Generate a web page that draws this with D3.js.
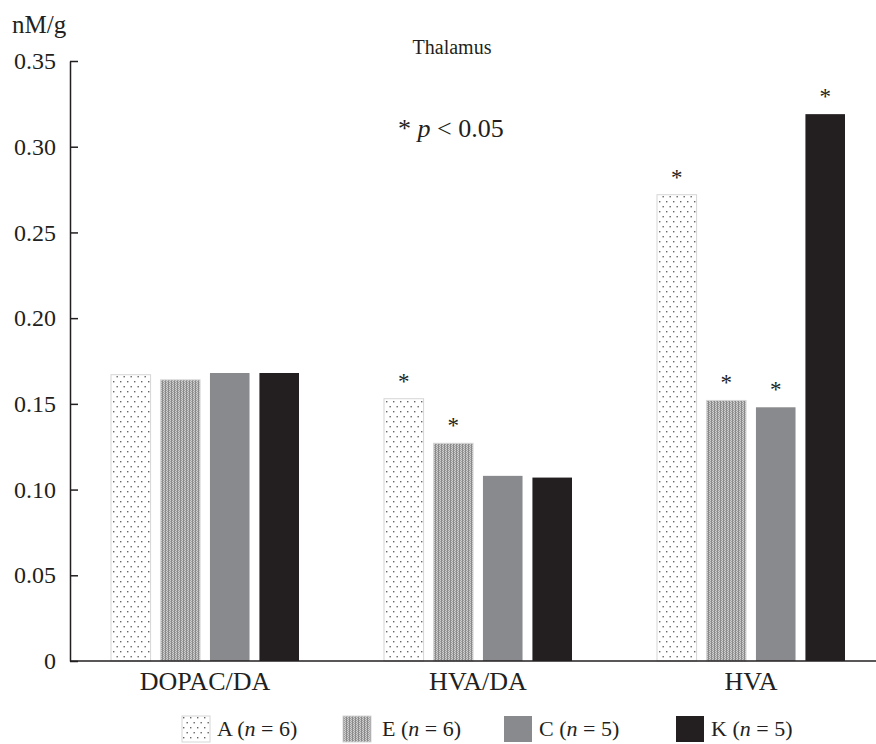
<!DOCTYPE html>
<html>
<head>
<meta charset="utf-8">
<script src="https://cdn.jsdelivr.net/npm/d3@7"></script>
<style>
  body { margin: 0; background: #fff; }
  text { font-family: "Liberation Serif", "Times New Roman", serif; fill: #231f20; }
</style>
</head>
<body>
<div id="chart"></div>
<script>
const width = 876;
const height = 744;

// data
const categories = ["DOPAC/DA", "HVA/DA", "HVA"];
const groups = ["A", "E", "C", "K"];
const groupN = [6, 6, 5, 5];
const valuesA = [0.167, 0.153, 0.272];
const valuesE = [0.164, 0.127, 0.152];
const valuesC = [0.168, 0.108, 0.148];
const valuesK = [0.168, 0.107, 0.319];
// significance marks (1 = *)
const sigA = [0, 1, 1];
const sigE = [0, 1, 1];
const sigC = [0, 0, 1];
const sigK = [0, 0, 1];
const yTicks = [0, 0.05, 0.10, 0.15, 0.20, 0.25, 0.30, 0.35];

const series = [valuesA, valuesE, valuesC, valuesK];
const sigs = [sigA, sigE, sigC, sigK];

const svg = d3.select("#chart")
  .append("svg")
  .attr("width", width)
  .attr("height", height);

const defs = svg.append("defs");

// dotted pattern for A
const pA = defs.append("pattern")
  .attr("id", "patA")
  .attr("patternUnits", "userSpaceOnUse")
  .attr("width", 7)
  .attr("height", 10);
pA.append("rect").attr("width", 7).attr("height", 10).attr("fill", "#fff");
pA.append("rect").attr("x", 1).attr("y", 1).attr("width", 1.4).attr("height", 1.4).attr("fill", "#666");
pA.append("rect").attr("x", 4.5).attr("y", 6).attr("width", 1.4).attr("height", 1.4).attr("fill", "#666");

// fine checker pattern for E
const pE = defs.append("pattern")
  .attr("id", "patE")
  .attr("patternUnits", "userSpaceOnUse")
  .attr("width", 3)
  .attr("height", 2);
pE.append("rect").attr("width", 3).attr("height", 2).attr("fill", "#cfcfcf");
pE.append("rect").attr("x", 0).attr("width", 1).attr("height", 2).attr("fill", "#8a8a8a");
pE.append("rect").attr("x", 1).attr("width", 1).attr("height", 1).attr("fill", "#9c9c9c");
pE.append("rect").attr("x", 2).attr("y", 1).attr("width", 1).attr("height", 1).attr("fill", "#a4a4a4");

const fills = ["url(#patA)", "url(#patE)", "#898a8d", "#231f20"];
const strokes = ["#d6d6d6", "#d6d6d6", "none", "none"];

const y = d3.scaleLinear().domain([0, 0.35]).range([661, 61]);

const x = d3.scaleBand()
  .domain(categories)
  .range([68.5, 887.5]);

const xs = d3.scaleBand()
  .domain(groups)
  .range([-94, 94])
  .paddingInner(0.2);

// bars
groups.forEach((g, gi) => {
  const vals = series[gi];
  svg.append("g")
    .selectAll("rect")
    .data(categories)
    .join("rect")
    .attr("x", c => x(c) + x.bandwidth() / 2 + xs(g))
    .attr("y", (c, i) => y(vals[i]))
    .attr("width", xs.bandwidth())
    .attr("height", (c, i) => y(0) - y(vals[i]))
    .attr("fill", fills[gi])
    .attr("stroke", strokes[gi])
    .attr("stroke-width", 1);

  svg.append("g")
    .selectAll("text")
    .data(categories.filter((c, i) => sigs[gi][i]))
    .join("text")
    .attr("x", c => x(c) + x.bandwidth() / 2 + xs(g) + xs.bandwidth() / 2)
    .attr("y", c => y(vals[categories.indexOf(c)]) - 10)
    .attr("text-anchor", "middle")
    .attr("font-size", 23)
    .text("*");
});

// y axis
const yAxis = svg.append("g").attr("transform", "translate(70,0)")
  .call(d3.axisLeft(y).tickValues(yTicks).tickSizeInner(-8).tickSizeOuter(0).tickPadding(14)
    .tickFormat(d => d === 0 ? "0" : d3.format(".2f")(d)));
yAxis.select(".domain").attr("stroke", "#231f20").attr("stroke-width", 1.5);
yAxis.selectAll(".tick line").attr("stroke", "#231f20").attr("stroke-width", 1.5);
yAxis.selectAll(".tick text").style("font-size", "24px").attr("fill", "#231f20");

// x axis line
svg.append("line")
  .attr("x1", 70).attr("x2", 876)
  .attr("y1", y(0)).attr("y2", y(0))
  .attr("stroke", "#231f20").attr("stroke-width", 1.5);

svg.append("g")
  .selectAll("text")
  .data(categories)
  .join("text")
  .attr("x", c => x(c) + x.bandwidth() / 2)
  .attr("y", 690)
  .attr("text-anchor", "middle")
  .attr("font-size", 26)
  .text(d => d);

// labels
svg.append("text").attr("x", 12).attr("y", 33).attr("font-size", 25).text("nM/g");
svg.append("text").attr("x", 452).attr("y", 54).attr("text-anchor", "middle")
  .attr("font-size", 20).text("Thalamus");

const pt = svg.append("text").attr("x", 398).attr("y", 137).attr("font-size", 26);
pt.append("tspan").text("* ");
pt.append("tspan").attr("font-style", "italic").text("p");
pt.append("tspan").text(" < 0.05");

// legend
const legendX = [182, 343, 504, 676];
const lg = svg.append("g")
  .selectAll("g")
  .data(groups)
  .join("g")
  .attr("transform", (d, i) => `translate(${legendX[i]},716)`);

lg.append("rect")
  .attr("width", 28)
  .attr("height", 26)
  .attr("fill", (d, i) => fills[i])
  .attr("stroke", (d, i) => strokes[i]);

const lt = lg.append("text")
  .attr("x", (d, i) => i === 1 ? 39 : 35)
  .attr("y", 20)
  .attr("font-size", 22);
lt.append("tspan").text(d => d + " (");
lt.append("tspan").attr("font-style", "italic").text("n");
lt.append("tspan").text((d, i) => " = " + groupN[i] + ")");
</script>
</body>
</html>
